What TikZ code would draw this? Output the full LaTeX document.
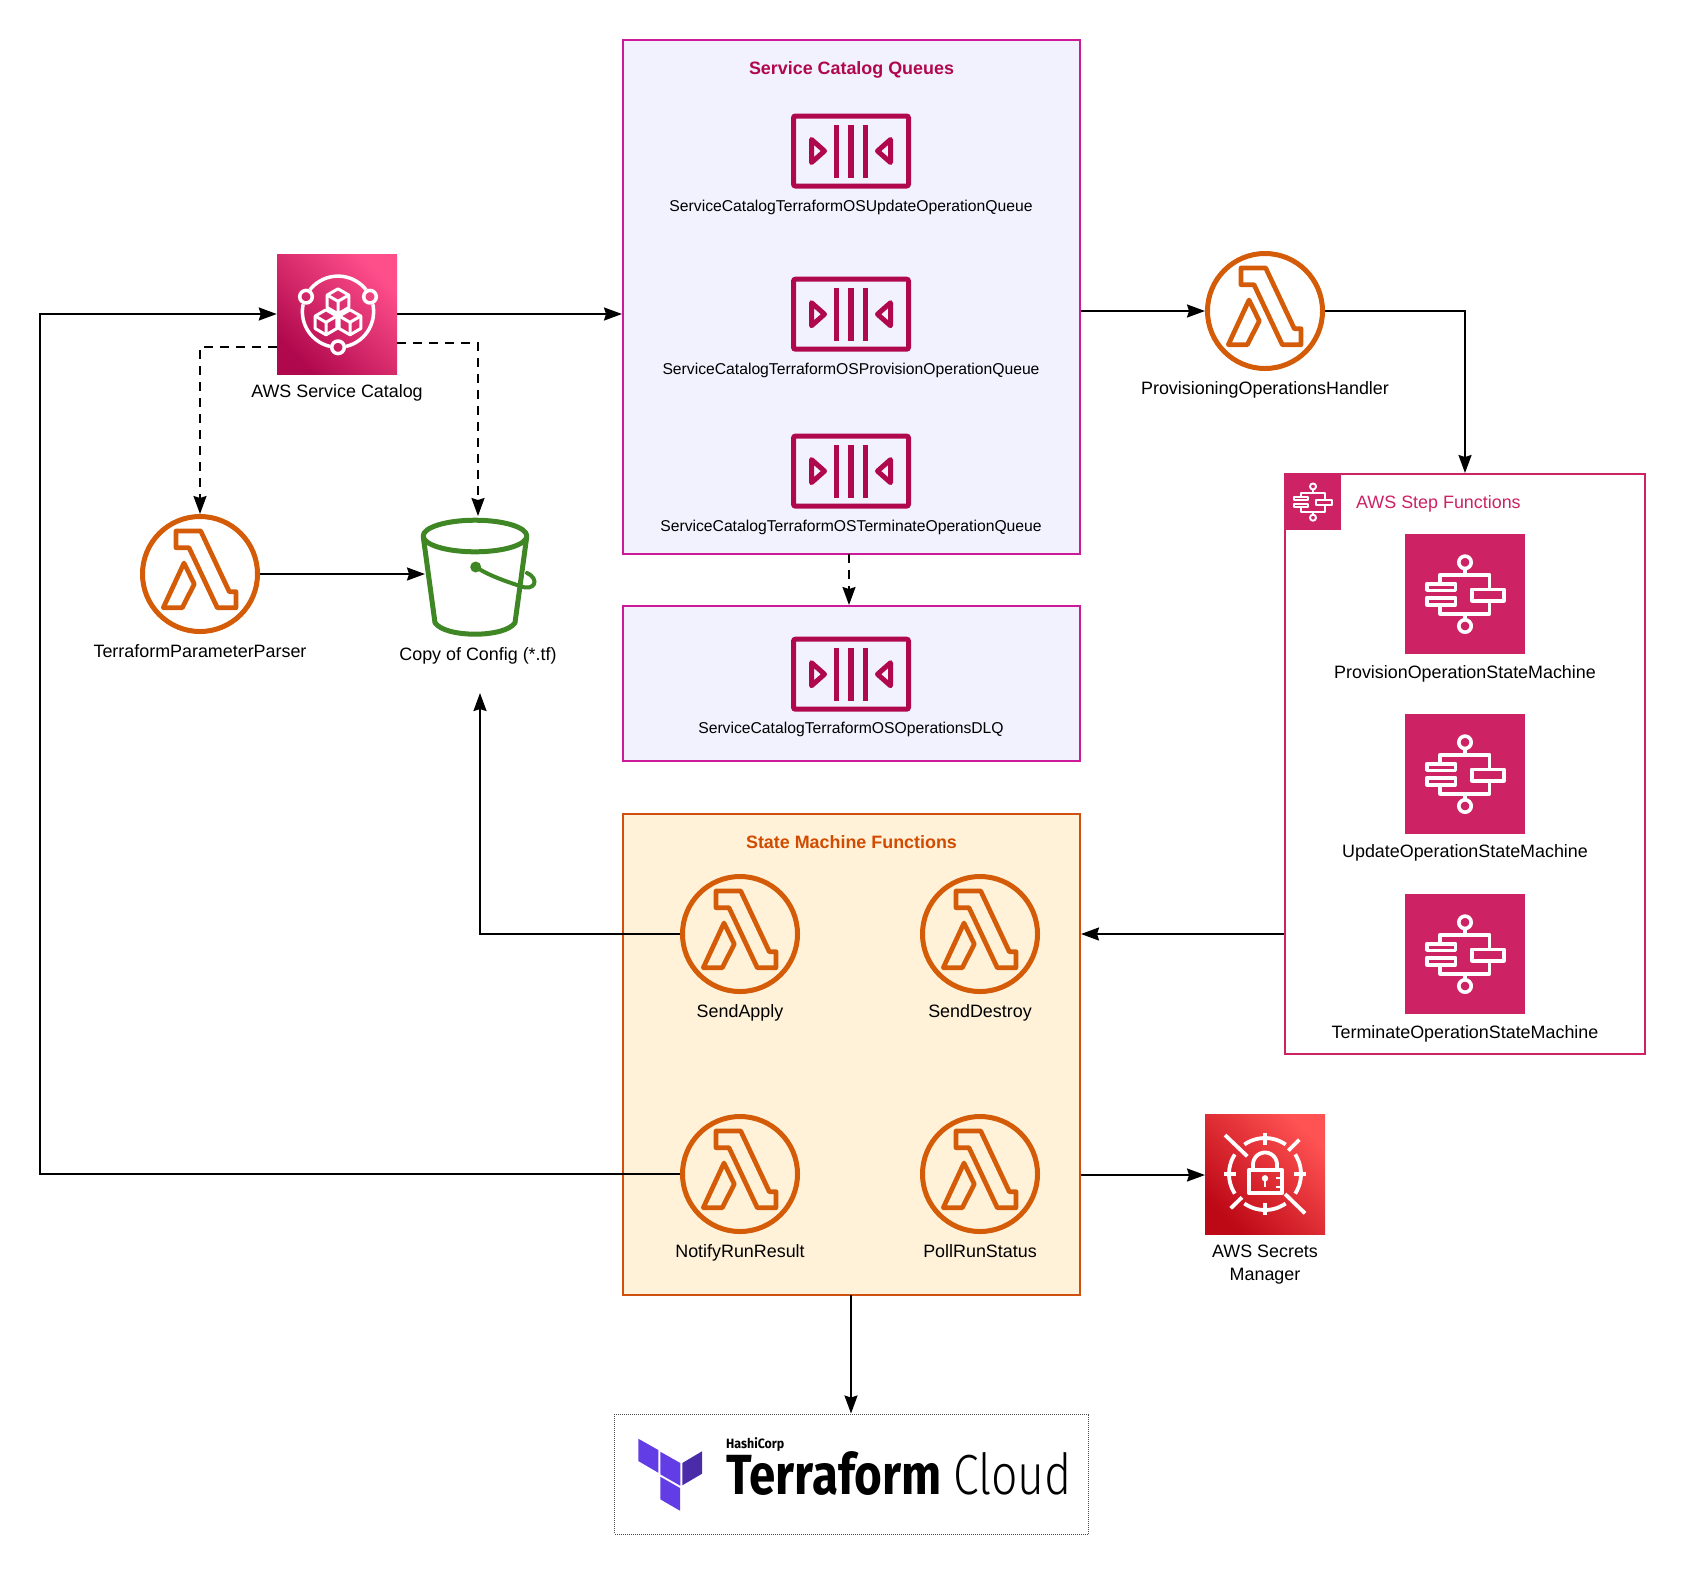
\documentclass[tikz,border=0pt]{standalone}
\usepackage{fontspec}
\setmainfont{Liberation Sans}
\newfontfamily\tfb{Fira Sans}
\newfontfamily\tfl{Fira Sans Light}
\usetikzlibrary{arrows.meta,calc}
\definecolor{catlight}{HTML}{FF4F8B}
\definecolor{catdark}{HTML}{B0084D}
\definecolor{secdark}{HTML}{BD0816}
\definecolor{seclight}{HTML}{FF5252}
\definecolor{stepcol}{HTML}{CD2264}
\definecolor{qcol}{HTML}{B0084D}
\definecolor{lamcol}{HTML}{D45B07}
\definecolor{s3col}{HTML}{3F8624}
\definecolor{qfill}{HTML}{F2F2FF}
\definecolor{qedge}{HTML}{CC1A99}
\definecolor{smfill}{HTML}{FFF2D9}
\definecolor{smedge}{HTML}{D05010}
\definecolor{smtitle}{HTML}{D14B00}
\definecolor{tfmain}{HTML}{623CE4}
\definecolor{tfdark}{HTML}{4A2CA8}
\tikzset{
  x=1pt,y=-1pt,
  arr/.style={line width=2pt,-{Stealth[length=18pt,width=13pt,inset=2pt]}},
  dasharr/.style={arr,dash pattern=on 9pt off 7pt},
  lbl/.style={font=\fontsize{17.9}{20}\selectfont,text=black,inner sep=0pt,text height=13pt,text depth=4pt,align=center},
  qlbl/.style={lbl,font=\fontsize{15.7}{20}\selectfont},
  ttl/.style={lbl,font=\fontsize{17.9}{20}\selectfont\bfseries},
  panel/.style={draw=qedge,fill=qfill,line width=2pt,inner sep=0pt},
  smpanel/.style={draw=smedge,fill=smfill,line width=2pt,inner sep=0pt},
  lambdanode/.style={circle,draw=lamcol,line width=5pt,minimum size=115pt,inner sep=0pt},
  squarenode/.style={rectangle,minimum size=120pt,inner sep=0pt,draw=none},
  queuenode/.style={rectangle,rounded corners=2pt,draw=qcol,line width=5pt,minimum width=115pt,minimum height=70pt,inner sep=0pt},
  lambdaicon/.pic={
    \draw[lamcol,line width=4.7pt,line join=round]
      (-24,-43)--(0.7,-43)--(29.3,17.7)--(36,17.7)--(36,33.7)--(17.3,33.7)--(-11,-26.3)--(-24,-26.3)--cycle;
    \draw[lamcol,line width=4.7pt,line join=round]
      (-16,-11)--(-5.7,10)--(-17.7,33.7)--(-36.7,33.7)--cycle;
  },
  queueicon/.pic={
    \foreach \q in {-14.5,0,14.5}{\draw[qcol,line width=5.5pt] (\q,-26.5)--(\q,26.5);}
    \draw[qcol,line width=5pt,line join=round] (-39.5,-11.5)--(-26.5,0)--(-39.5,11.5)--cycle;
    \draw[qcol,line width=5pt,line join=round] (39.5,-11.5)--(26.5,0)--(39.5,11.5)--cycle;
  },
  stepicon/.pic={
    \begin{scope}[x=\stepscale pt,y=-\stepscale pt,white,line width=\stepwidth pt,line join=round]
    \draw (0,-31.7) circle[radius=6.2];
    \draw (0,32) circle[radius=6.2];
    \draw (0,-25.5)--(0,-19.3);
    \draw (0,19.7)--(0,25.8);
    \draw (-25,-10.3)--(-25,-19.3)--(24.3,-19.3)--(24.3,-4.7);
    \draw (-25,10.7)--(-25,19.7)--(24.3,19.7)--(24.3,6.7);
    \draw (6.7,-4.7) rectangle (39,6.7);
    \draw (-38.3,-10.3) rectangle (-9.7,-3.7);
    \draw (-38.3,3.7) rectangle (-9.7,10.7);
    \end{scope}
  },
  catalogicon/.pic={
    \begin{scope}[white,line width=3.5pt,line join=round]
    \draw (-31,-17.3) circle[radius=6.3];
    \draw (33,-17.3) circle[radius=6.3];
    \draw (1,33.3) circle[radius=6.3];
    \draw plot[smooth,domain=218:322,samples=20] ({1+35.6*cos(\x)},{-2.3+35.6*sin(\x)});
    \draw plot[smooth,domain=-12:77,samples=20] ({1+35.6*cos(\x)},{-2.3+35.6*sin(\x)});
    \draw plot[smooth,domain=103:192,samples=20] ({1+35.6*cos(\x)},{-2.3+35.6*sin(\x)});
    \foreach \cx/\cy in {1/-12.7,-11/8.3,13/8.3}{
      \begin{scope}[shift={(\cx,\cy)},line width=3pt]
      \draw (0,-12.5)--(10.8,-6.25)--(10.8,6.25)--(0,12.5)--(-10.8,6.25)--(-10.8,-6.25)--cycle;
      \draw (-10.8,-6.25)--(0,0)--(10.8,-6.25) (0,0)--(0,12.5);
      \end{scope}
    }
    \end{scope}
  },
  secreticon/.pic={
    \begin{scope}[white,line width=3.8pt,line join=round]
    \draw plot[smooth,domain=235:305,samples=14] ({36*cos(\x)},{36*sin(\x)});
    \draw plot[smooth,domain=55:125,samples=14] ({36*cos(\x)},{36*sin(\x)});
    \draw plot[smooth,domain=-33:33,samples=14] ({36*cos(\x)},{36*sin(\x)});
    \draw plot[smooth,domain=147:213,samples=14] ({36*cos(\x)},{36*sin(\x)});
    \draw (0,-41)--(0,-29) (0,41)--(0,29) (-41,0)--(-29,0) (41,0)--(29,0);
    \draw (-40,-39)--(-17.7,-17.7) (34.3,-34.3)--(23.3,-23.3) (-34.3,34.3)--(-23,23.3) (40,39.3)--(20,20);
    \draw (-15.7,-4.3) rectangle (16.7,19.3);
    \draw (-12,-4.3)--(-12,-9.5) plot[smooth,domain=180:360,samples=20] ({12*cos(\x)},{-9.5+12*sin(\x)}) --(12,-4.3);
    \fill (0,4.3) circle[radius=3.2];
    \draw[line width=2.5pt] (0,4.3)--(0,12.7);
    \draw[line width=2.5pt] (11,4)--(16,4) (11,13)--(16,13);
    \end{scope}
  },
}
\begin{document}
\begin{tikzpicture}
\useasboundingbox (0,0) rectangle (1685,1575);
% panels
\node[panel,minimum width=457pt,minimum height=514pt] (queues) at (851.5,297) {};
\node[panel,minimum width=457pt,minimum height=155pt] (dlqbox) at (851.5,683.5) {};
\node[smpanel,minimum width=457pt,minimum height=481pt] (state) at (851.5,1054) {};
\node[draw=stepcol,fill=white,line width=2pt,inner sep=0pt,minimum width=360pt,minimum height=580pt] (step) at (1465,764) {};
\node[draw=black!70,dash pattern=on 1pt off 1pt,line width=1pt,inner sep=0pt,minimum width=474pt,minimum height=120pt] (tfcloud) at (851.5,1474) {};
% titles
\node[ttl,text=qcol] (qtitle) at (851.5,70) {Service Catalog Queues};
\node[ttl,text=smtitle] (smtitlenode) at (851.5,844) {State Machine Functions};
\node[lbl,text=stepcol,anchor=west] (steptitle) at (1356,504) {AWS Step Functions};
% service catalog
\node[squarenode,shade,shading=axis,left color=catlight,right color=catdark,shading angle=-45] (catalog) at (337,314) {};
\pic at (catalog.center) {catalogicon};
\node[lbl] (cataloglbl) at (337,393) {AWS Service Catalog};
% queues
\foreach \n/\y/\t/\ly in {qupdate/151/ServiceCatalogTerraformOSUpdateOperationQueue/206.5,
  qprov/314.2/ServiceCatalogTerraformOSProvisionOperationQueue/369.5,
  qterm/471.1/ServiceCatalogTerraformOSTerminateOperationQueue/526.5,
  qdlq/674.2/ServiceCatalogTerraformOSOperationsDLQ/728.5}{
  \node[queuenode] (\n) at (851,\y) {};
  \pic at (\n.center) {queueicon};
  \node[qlbl] (\n lbl) at (851,\ly) {\t};
}
% lambdas
\foreach \n/\x/\y/\t/\ly in {handler/1265/311/ProvisioningOperationsHandler/390,
  parser/200/574/TerraformParameterParser/653,
  sendapply/740/934/SendApply/1013,
  senddestroy/980/934/SendDestroy/1013,
  notify/740/1174/NotifyRunResult/1253,
  poll/980/1174/PollRunStatus/1253}{
  \node[lambdanode] (\n) at (\x,\y) {};
  \pic at (\n.center) {lambdaicon};
  \node[lbl] (\n lbl) at (\x,\ly) {\t};
}
% bucket
\begin{scope}[yshift=-1pt]
\draw[s3col,line width=5pt,line join=round] (475,535) ellipse[x radius=51.8,y radius=15.8];
\draw[s3col,line width=5pt,line join=round] (423.3,536)--(435,621.7) .. controls (445,637) and (505,637) .. (515,621.7)--(526.7,536);
\fill[s3col] (475.7,566) circle[radius=5.5];
\draw[s3col,line width=4pt,line cap=round] (475.7,566) .. controls (490,575) and (505,580) .. (520,585) .. controls (535,591) and (540,578) .. (527,572);
\end{scope}
\node[lbl] (bucketlbl) at (478,656) {Copy of Config (*.tf)};
% step functions
\node[rectangle,fill=stepcol,minimum width=56pt,minimum height=56pt,inner sep=0pt] (stephead) at (1313,502) {};
\def\stepscale{0.49}\def\stepwidth{1.9}
\pic at (stephead.center) {stepicon};
\def\stepscale{1}\def\stepwidth{3.6}
\foreach \n/\y/\t/\ly in {smprov/594/ProvisionOperationStateMachine/673.5,
  smupd/774/UpdateOperationStateMachine/853,
  smterm/954/TerminateOperationStateMachine/1033.5}{
  \node[squarenode,fill=stepcol] (\n) at (1465,\y) {};
  \pic at (\n.center) {stepicon};
  \node[lbl] (\n lbl) at (1465,\ly) {\t};
}
% secrets
\node[squarenode,shade,shading=axis,left color=seclight,right color=secdark,shading angle=-45] (secrets) at (1265,1174) {};
\pic at (secrets.center) {secreticon};
\node[lbl] (secretslbl) at (1265,1276) {AWS Secrets\\[3pt]Manager};
% terraform logo
\fill[tfmain] (638.3,1438.7)--(658.3,1450)--(658.3,1472.7)--(638.3,1461)--cycle;
\fill[tfmain] (660.3,1451.7)--(680.3,1463)--(680.3,1485.7)--(660.3,1474.3)--cycle;
\fill[tfdark] (682.3,1463)--(702,1451.3)--(702,1473.7)--(682.3,1485.3)--cycle;
\fill[tfmain] (660.3,1476.7)--(680,1488)--(680,1510.7)--(660.3,1499.3)--cycle;
\node[anchor=base west,inner sep=0pt,font=\tfb\bfseries\fontsize{13.5}{14}\selectfont] (hashi) at (726,1448) {\scalebox{0.92}[1]{HashiCorp}};
\node[anchor=base west,inner sep=0pt,font=\tfb\bfseries\fontsize{56.6}{60}\selectfont] (tfword) at (726,1494) {\scalebox{0.84}[1]{Terraform}};
\node[anchor=base west,inner sep=0pt,font=\tfl\fontsize{56.6}{60}\selectfont] (cloudword) at (953,1494) {\scalebox{0.82}[1]{Cloud}};
% connectors
\coordinate (catdashl) at (277,347);
\coordinate (catdashr) at (397,343);
\coordinate (configin) at (480,693);
\coordinate (rail) at (40,314);
\coordinate (bucketw) at (425,574);
\coordinate (buckett) at (478,516);
\coordinate (qsouth) at (849,554);
\coordinate (secin) at (1205,1175);
\coordinate (statebot) at (851,1294.5);
\draw[arr] (catalog.east) -- (catalog.east -| queues.west);
\draw[dasharr] (catdashl) -| (parser.north);
\draw[dasharr] (catdashr) -| (buckett);
\draw[arr] (parser.east) -- (parser.east -| bucketw);
\draw[arr] (sendapply.west) -| (configin);
\draw[arr] (notify.west) -| (rail) -- (catalog.west);
\draw[arr] (handler.west -| queues.east) -- (handler.west);
\draw[arr] (handler.east) -| (step.north);
\draw[dasharr] (qsouth) -- (qsouth |- dlqbox.north);
\draw[arr] (step.west |- sendapply.center) -- (state.east |- sendapply.center);
\draw[arr] (state.east |- secin) -- (secin);
\draw[arr] (statebot) -- (statebot |- tfcloud.north);
\end{tikzpicture}
\end{document}
